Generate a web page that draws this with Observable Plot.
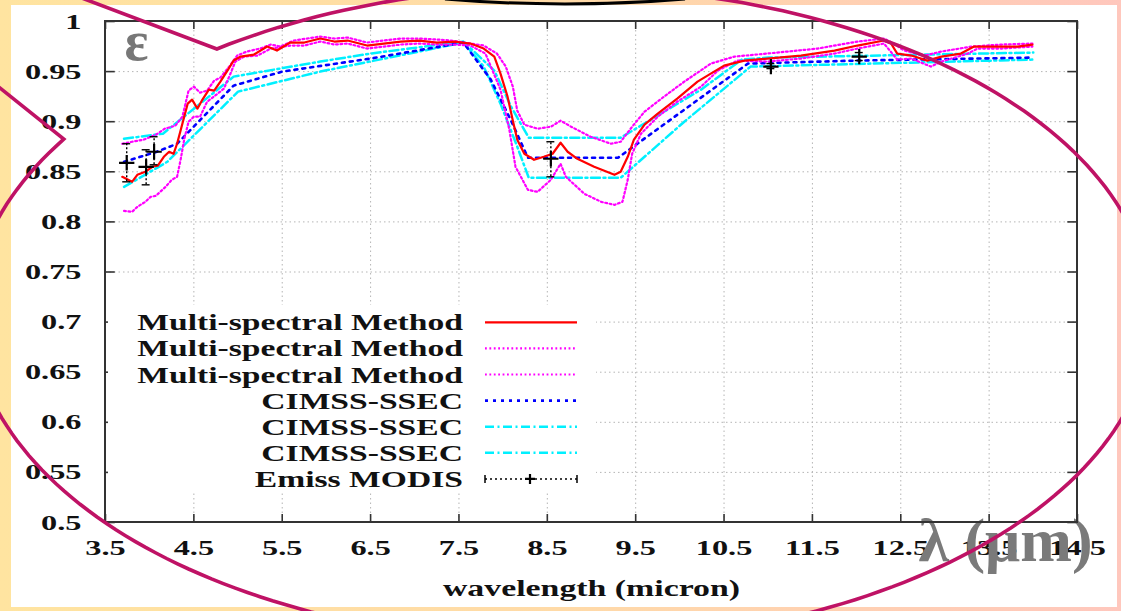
<!DOCTYPE html>
<html>
<head>
<meta charset="utf-8">
<script src="https://cdn.jsdelivr.net/npm/d3@7"></script>
<script src="https://cdn.jsdelivr.net/npm/@observablehq/plot@0.6"></script>
<style>
html,body{margin:0;padding:0;}
body{width:1121px;height:611px;position:relative;overflow:hidden;
  background:linear-gradient(to right,#ffe4a0 0%,#ffdaa7 50%,#ffc7bd 100%);}
#panel{position:absolute;left:11px;top:5px;width:1106px;height:602px;background:#fff;}
#chart{position:absolute;left:0;top:0;}
.overlay{position:absolute;left:0;top:0;pointer-events:none;overflow:visible;}
</style>
</head>
<body>
<div id="panel"></div>
<div id="chart"></div>
<svg id="legend" class="overlay" width="1121" height="611"></svg>
<svg id="deco" class="overlay" width="1121" height="611"></svg>
<script>
// ---------- data ----------
const X_TICKS = [3.5,4.5,5.5,6.5,7.5,8.5,9.5,10.5,11.5,12.5,13.5,14.5];
const Y_TICKS = [0.5,0.55,0.6,0.65,0.7,0.75,0.8,0.85,0.9,0.95,1];

// Multi-spectral Method (retrieval)
const msLam = [3.69,3.80,3.86,3.95,4.03,4.09,4.16,4.22,4.27,4.31,4.37,4.43,4.48,4.54,4.59,4.67,4.73,4.80,4.88,4.95,5.03,5.18,5.33,5.44,5.59,5.75,5.93,6.09,6.24,6.46,6.65,6.84,7.05,7.25,7.45,7.63,7.78,7.90,7.97,8.05,8.11,8.16,8.24,8.35,8.46,8.56,8.65,8.73,8.84,9.03,9.26,9.33,9.41,9.48,9.60,9.75,9.97,10.20,10.50,10.73,10.99,11.37,11.75,12.01,12.31,12.39,12.46,12.62,12.80,12.96,13.18,13.33,13.64,13.82,13.99];
const msEps = [0.845,0.840,0.847,0.850,0.855,0.856,0.865,0.870,0.868,0.878,0.898,0.918,0.922,0.913,0.921,0.932,0.931,0.940,0.951,0.961,0.965,0.967,0.975,0.971,0.979,0.979,0.983,0.980,0.981,0.976,0.978,0.980,0.981,0.979,0.980,0.978,0.973,0.965,0.948,0.925,0.901,0.882,0.868,0.862,0.865,0.868,0.879,0.870,0.863,0.855,0.847,0.850,0.865,0.882,0.897,0.908,0.923,0.940,0.956,0.961,0.963,0.966,0.971,0.976,0.981,0.978,0.968,0.966,0.961,0.965,0.968,0.975,0.975,0.975,0.977];

// Multi-spectral Method upper bound
const msUpLam = [3.69,3.80,3.93,4.07,4.17,4.29,4.37,4.44,4.50,4.57,4.65,4.73,4.80,4.90,4.99,5.10,5.25,5.37,5.48,5.63,5.93,6.09,6.24,6.46,6.65,6.84,7.05,7.25,7.41,7.78,7.93,8.03,8.11,8.16,8.24,8.39,8.54,8.65,8.77,8.99,9.22,9.33,9.46,9.60,9.82,10.05,10.35,10.62,10.99,11.56,12.01,12.31,12.42,12.54,12.77,12.96,13.30,13.64,13.99];
const msUpEps = [0.878,0.880,0.882,0.887,0.893,0.896,0.905,0.931,0.935,0.929,0.931,0.941,0.944,0.955,0.966,0.970,0.973,0.977,0.975,0.981,0.985,0.983,0.984,0.979,0.981,0.983,0.983,0.982,0.981,0.976,0.968,0.955,0.935,0.911,0.897,0.893,0.895,0.901,0.895,0.885,0.878,0.880,0.895,0.910,0.925,0.940,0.958,0.965,0.968,0.973,0.980,0.983,0.978,0.971,0.966,0.970,0.975,0.977,0.978];

// Multi-spectral Method lower bound
const msLoLam = [3.71,3.80,3.86,3.95,4.01,4.07,4.18,4.25,4.31,4.35,4.39,4.44,4.50,4.57,4.65,4.74,4.84,4.90,4.97,5.07,5.22,5.37,5.59,5.75,5.93,6.09,6.24,6.46,6.65,6.84,7.05,7.25,7.45,7.63,7.80,7.97,8.07,8.14,8.28,8.39,8.54,8.65,8.71,8.92,9.11,9.26,9.35,9.41,9.46,9.56,9.75,9.97,10.24,10.43,10.65,10.99,11.37,11.75,12.01,12.31,12.46,12.62,12.84,12.96,13.26,13.37,13.64,13.99];
const msLoEps = [0.811,0.810,0.815,0.820,0.825,0.826,0.835,0.842,0.845,0.862,0.882,0.900,0.905,0.905,0.920,0.926,0.933,0.945,0.960,0.965,0.966,0.973,0.976,0.976,0.980,0.977,0.978,0.973,0.975,0.977,0.978,0.977,0.977,0.976,0.968,0.932,0.892,0.855,0.832,0.830,0.842,0.858,0.845,0.828,0.820,0.817,0.820,0.842,0.868,0.888,0.905,0.920,0.935,0.951,0.961,0.960,0.963,0.968,0.973,0.978,0.962,0.963,0.955,0.960,0.968,0.973,0.973,0.975];

// CIMSS-SSEC mean, upper, lower
const ciLam = [3.71,4.08,4.31,4.95,5.50,6.50,7.55,7.86,8.09,8.28,9.30,10.77,12.00,14.00];
const ciEps = [0.860,0.870,0.878,0.936,0.950,0.963,0.979,0.942,0.901,0.864,0.864,0.958,0.961,0.964];
const ciUpLam = [3.71,4.15,4.95,5.93,6.50,7.55,7.90,8.09,8.29,9.33,10.24,10.70,11.00,14.00];
const ciUpEps = [0.883,0.888,0.945,0.960,0.968,0.980,0.951,0.915,0.884,0.884,0.932,0.962,0.964,0.969];
const ciLoLam = [3.71,4.20,5.00,5.93,7.55,7.78,7.97,8.16,8.29,9.33,10.05,10.80,14.00];
const ciLoEps = [0.835,0.860,0.930,0.950,0.979,0.955,0.918,0.875,0.844,0.844,0.900,0.955,0.962];

// Emiss MODIS with error bars
const modisLam = [3.74,3.96,4.05,8.54,11.03,12.03];
const modisEps = [0.859,0.855,0.870,0.863,0.955,0.965];
const modisLo  = [0.840,0.837,0.857,0.845,0.953,0.961];
const modisHi  = [0.878,0.872,0.885,0.880,0.958,0.969];

const legendLabels = ["Multi-spectral Method","Multi-spectral Method","Multi-spectral Method","CIMSS-SSEC","CIMSS-SSEC","CIMSS-SSEC","Emiss MODIS"];

// ---------- styles ----------
const SERIF = "'Liberation Serif','Times New Roman',serif";
const STYLES = [
  {stroke:"#ff0000", width:2.2, dash:null},
  {stroke:"#ff00ff", width:2.2, dash:"1.8,2.6"},
  {stroke:"#ff00ff", width:2.2, dash:"1.8,2.6"},
  {stroke:"#0000ff", width:2.6, dash:"3,5"},
  {stroke:"#00f0ff", width:2.5, dash:"9,3.5,2,3.5"},
  {stroke:"#00f0ff", width:2.5, dash:"9,3.5,2,3.5"},
  {stroke:"#000000", width:1.3, dash:"2,3"}
];
const rows = (xs, ys) => xs.map((x, i) => ({x, y: ys[i]}));
const series = [
  rows(msLam, msEps), rows(msUpLam, msUpEps), rows(msLoLam, msLoEps),
  rows(ciLam, ciEps), rows(ciUpLam, ciUpEps), rows(ciLoLam, ciLoEps)
];
const modis = modisLam.map((x, i) => ({x, y: modisEps[i], lo: modisLo[i], hi: modisHi[i]}));

const lineMarks = [];
// draw order: cyan, blue, magenta, red on top
[5,4,3,2,1,0].forEach(i => {
  const s = STYLES[i];
  lineMarks.push(Plot.line(series[i], {x:"x", y:"y", stroke:s.stroke, strokeWidth:s.width,
    strokeDasharray:s.dash, curve:"linear"}));
});

const fmt = d => String(d);
const chart = Plot.plot({
  width:1121, height:611,
  marginLeft:105, marginRight:44, marginTop:21, marginBottom:89,
  x:{domain:[3.5,14.5], label:null},
  y:{domain:[0.5,1], label:null},
  style:{background:"transparent", fontFamily:SERIF, color:"#111"},
  marks:[
    // grid
    Plot.ruleX(X_TICKS.slice(1,-1), {y1:0.5, y2:1, stroke:"#b5b5b5", strokeWidth:1, strokeDasharray:"1.5,3"}),
    Plot.ruleY(Y_TICKS.slice(1,-1), {x1:3.5, x2:14.5, stroke:"#b5b5b5", strokeWidth:1, strokeDasharray:"1.5,3"}),
    // inward ticks (bottom/top/left/right)
    Plot.ruleX(X_TICKS, {y1:0.5, y2:0.508, stroke:"#333", strokeWidth:1.6}),
    Plot.ruleX(X_TICKS, {y1:0.992, y2:1, stroke:"#333", strokeWidth:1.6}),
    Plot.ruleY(Y_TICKS, {x1:3.5, x2:3.61, stroke:"#333", strokeWidth:1.6}),
    Plot.ruleY(Y_TICKS, {x1:14.39, x2:14.5, stroke:"#333", strokeWidth:1.6}),
    Plot.axisX(X_TICKS, {tickSize:0, tickPadding:17, fontSize:22, fontWeight:"bold", tickFormat:fmt, label:null}),
    Plot.axisY(Y_TICKS, {tickSize:0, tickPadding:24, fontSize:22, fontWeight:"bold", tickFormat:fmt, label:null}),
    Plot.text(["wavelength (micron)"], {frameAnchor:"bottom", dy:66, fontSize:23, fontWeight:"bold", lineAnchor:"middle"}),
    ...lineMarks,
    // MODIS error bars + markers
    Plot.ruleX(modis, {x:"x", y1:"lo", y2:"hi", stroke:"#000", strokeWidth:1.4, strokeDasharray:"2,2"}),
    Plot.ruleY(modis, {y:"lo", x1:d => d.x - 0.045, x2:d => d.x + 0.045, stroke:"#000", strokeWidth:1.4}),
    Plot.ruleY(modis, {y:"hi", x1:d => d.x - 0.045, x2:d => d.x + 0.045, stroke:"#000", strokeWidth:1.4}),
    Plot.dot(modis, {x:"x", y:"y", symbol:"plus", r:5, stroke:"#000", strokeWidth:2.2}),
    // annotations
    Plot.text(["ε"], {frameAnchor:"top-left", textAnchor:"middle", lineAnchor:"middle", dx:31, dy:21, fontSize:56, fontWeight:"bold", fill:"#777"}),
    Plot.text(["λ (μm)"], {frameAnchor:"bottom-right", textAnchor:"middle", lineAnchor:"middle", dx:-72, dy:19, fontSize:62, fontWeight:"bold", fill:"#7a7a7a"})
  ]
});
document.getElementById("chart").appendChild(chart);

// horizontal stretch of gnuplot-like text
function stretchEl(t, f) {
  const w = t.getComputedTextLength();
  t.setAttribute("textLength", (w * f).toFixed(1));
  t.setAttribute("lengthAdjust", "spacingAndGlyphs");
}
chart.querySelectorAll('g[aria-label="x-axis tick label"] text, g[aria-label="y-axis tick label"] text').forEach(t => stretchEl(t, 1.47));
chart.querySelectorAll('text').forEach(t => { if (t.textContent === "wavelength (micron)") stretchEl(t, 1.47); });

// ---------- legend (inside plot area) ----------
const lg = d3.select("#legend");
lg.append("rect").attr("x", 108).attr("y", 305).attr("width", 488).attr("height", 188).attr("fill", "#fff");
const rowY0 = 322.3, rowStep = 26.1, txtRight = 463, sx1 = 485, sx2 = 577;
legendLabels.forEach((lab, i) => {
  const y = rowY0 + i * rowStep, s = STYLES[i];
  const t = lg.append("text").attr("x", txtRight).attr("y", y + 8).attr("text-anchor", "end")
    .attr("font-family", SERIF).attr("font-weight", "bold").attr("font-size", 23.5).attr("fill", "#111").text(lab);
  stretchEl(t.node(), 1.43);
  lg.append("line").attr("x1", sx1).attr("x2", sx2).attr("y1", y).attr("y2", y)
    .attr("stroke", s.stroke).attr("stroke-width", i === 6 ? 1.5 : s.width)
    .attr("stroke-dasharray", s.dash);
  if (i === 6) {
    const mx = (sx1 + sx2) / 2 - 1;
    lg.append("path").attr("d", `M${mx-5},${y}H${mx+5}M${mx},${y-5}V${y+5}`).attr("stroke", "#000").attr("stroke-width", 2.2);
    [sx1, sx2].forEach(x => lg.append("path").attr("d", `M${x},${y-4}V${y+4}`).attr("stroke", "#000").attr("stroke-width", 1.5));
  }
});
// plot frame drawn above the legend box
lg.append("rect").attr("x", 105).attr("y", 21).attr("width", 972).attr("height", 501)
  .attr("fill", "none").attr("stroke", "#333").attr("stroke-width", 2);

// ---------- decorative callout ellipse & top arc ----------
const dg = d3.select("#deco");
const cx = 562, cy = 315, rx = 590, ry = 328;
const a0 = -125.8 * Math.PI / 180, a1 = 212.4 * Math.PI / 180;
const pts = d3.range(0, 241).map(k => {
  const a = a0 + (a1 - a0) * k / 240;
  return [cx + rx * Math.cos(a), cy + ry * Math.sin(a)];
});
pts.push([-284, -140]);
dg.append("path").attr("d", "M" + pts.map(p => p[0].toFixed(1) + "," + p[1].toFixed(1)).join("L") + "Z")
  .attr("fill", "none").attr("stroke", "#bf1265").attr("stroke-width", 3.6).attr("stroke-linejoin", "miter");
dg.append("path").attr("d", "M445,-1Q565,9 685,-1").attr("fill", "none").attr("stroke", "#000").attr("stroke-width", 3);
</script>
</body>
</html>
